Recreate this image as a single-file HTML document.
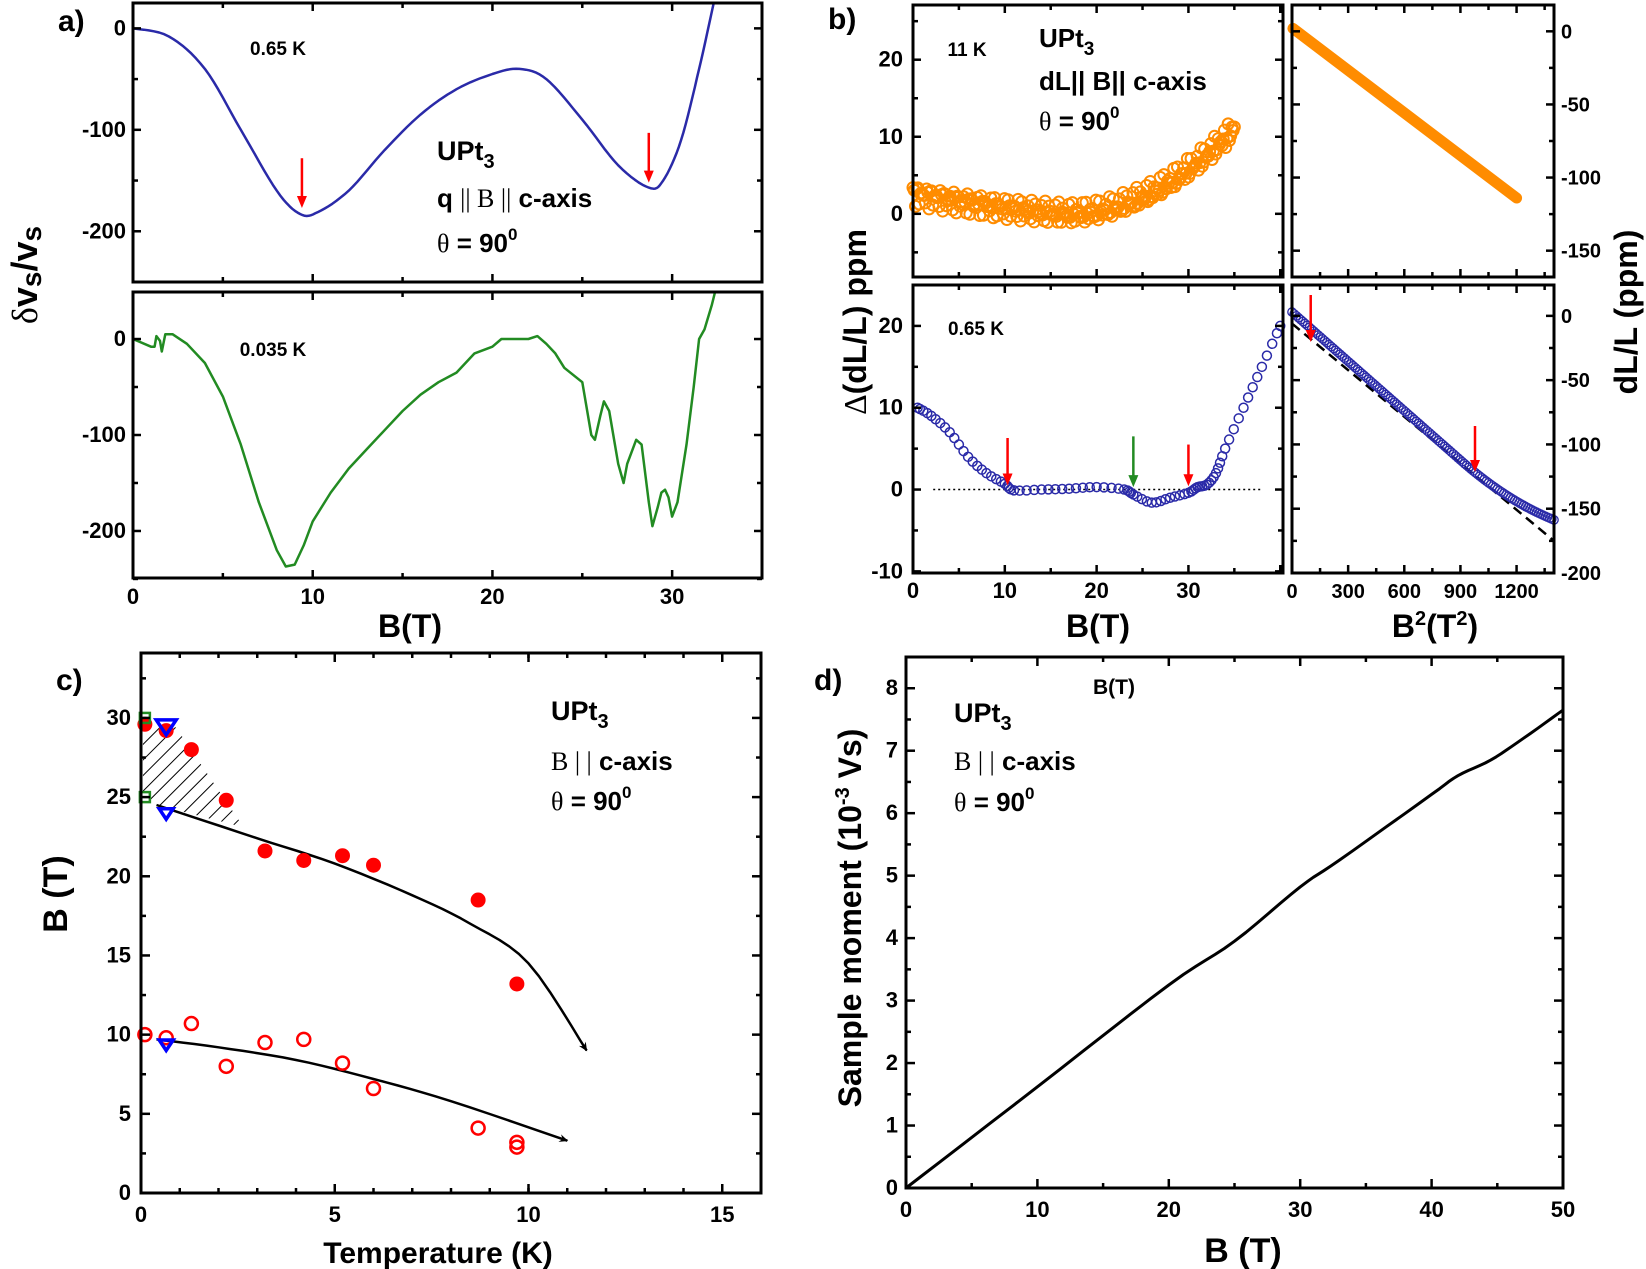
<!DOCTYPE html>
<html><head><meta charset="utf-8"><style>
html,body{margin:0;padding:0;background:#fff}
svg{display:block}
text{font-family:"Liberation Sans Narrow","Liberation Sans",sans-serif;font-weight:bold;fill:#000}
.s{font-family:"Liberation Serif",serif;font-weight:normal}
</style></head><body>
<svg id="g" width="1646" height="1269" viewBox="0 0 1646 1269" xmlns="http://www.w3.org/2000/svg">
<defs>
<pattern id="h" width="11" height="11" patternUnits="userSpaceOnUse" patternTransform="rotate(45)"><line x1="0" y1="0" x2="0" y2="11" stroke="#000" stroke-width="2"/></pattern>
<marker id="ah" markerWidth="10" markerHeight="10" refX="8" refY="5" orient="auto" markerUnits="userSpaceOnUse"><path d="M0,1 L9,5 L0,9 L3,5z" fill="#000"/></marker>
</defs>
<text x="58" y="31" font-size="30">a)</text>
<text x="278" y="55" font-size="19" text-anchor="middle">0.65 K</text>
<text x="437" y="160" font-size="27">UPt<tspan font-size="20" dy="8">3</tspan></text>
<text x="437" y="207" font-size="26">q <tspan class="s">|| B ||</tspan> c-axis</text>
<text x="437" y="252" font-size="26"><tspan class="s">θ</tspan> = 90<tspan font-size="17" dy="-12">0</tspan></text>
<text x="273" y="356" font-size="19" text-anchor="middle">0.035 K</text>
<text x="410" y="637" font-size="32" text-anchor="middle">B(T)</text>
<text transform="translate(37,275) rotate(-90)" font-size="36" text-anchor="middle"><tspan class="s">δ</tspan>v<tspan font-size="28" dy="4">s</tspan><tspan dy="-4">/v</tspan><tspan font-size="28" dy="4">s</tspan></text>

<text x="828" y="29" font-size="30">b)</text>
<text x="967" y="56" font-size="19" text-anchor="middle">11 K</text>
<text x="1039" y="47" font-size="26">UPt<tspan font-size="19" dy="8">3</tspan></text>
<text x="1039" y="90" font-size="26">dL|| B|| c-axis</text>
<text x="1039" y="130" font-size="26"><tspan class="s">θ</tspan> = 90<tspan font-size="17" dy="-12">0</tspan></text>
<text x="948" y="335" font-size="19">0.65 K</text>
<text x="1098" y="637" font-size="32" text-anchor="middle">B(T)</text>
<text x="1435" y="637" font-size="32" text-anchor="middle">B<tspan font-size="20" dy="-12">2</tspan><tspan dy="12">(T</tspan><tspan font-size="20" dy="-12">2</tspan><tspan dy="12">)</tspan></text>
<text transform="translate(866,322) rotate(-90)" font-size="32" text-anchor="middle"><tspan class="s">Δ</tspan>(dL/L) ppm</text>
<text transform="translate(1637,312) rotate(-90)" font-size="32" text-anchor="middle">dL/L (ppm)</text>

<text x="56" y="690" font-size="30">c)</text>
<text x="551" y="720" font-size="27">UPt<tspan font-size="20" dy="8">3</tspan></text>
<text x="551" y="770" font-size="26"><tspan class="s">B | |</tspan> c-axis</text>
<text x="551" y="810" font-size="26"><tspan class="s">θ</tspan> = 90<tspan font-size="17" dy="-12">0</tspan></text>
<text x="438" y="1263" font-size="30" text-anchor="middle">Temperature (K)</text>
<text transform="translate(67,894) rotate(-90)" font-size="34" text-anchor="middle">B (T)</text>

<text x="814" y="690" font-size="30">d)</text>
<text x="1114" y="694" font-size="21" text-anchor="middle">B(T)</text>
<text x="954" y="722" font-size="27">UPt<tspan font-size="20" dy="8">3</tspan></text>
<text x="954" y="770" font-size="26"><tspan class="s">B | |</tspan> c-axis</text>
<text x="954" y="811" font-size="26"><tspan class="s">θ</tspan> = 90<tspan font-size="17" dy="-12">0</tspan></text>
<text x="1243" y="1262" font-size="34" text-anchor="middle">B (T)</text>
<text transform="translate(861,918) rotate(-90)" font-size="32" text-anchor="middle">Sample moment (10<tspan font-size="20" dy="-12">-3</tspan><tspan dy="12"> Vs)</tspan></text>
</svg>
<script>
var S=document.getElementById('g'),NS='http://www.w3.org/2000/svg';
function el(t,a,p){var e=document.createElementNS(NS,t);for(var k in a)e.setAttribute(k,a[k]);(p||S).appendChild(e);return e;}
function txt(x,y,s,sz,anc){var e=el('text',{x:x,y:y,'font-size':sz,'text-anchor':anc});e.textContent=s;return e;}
function P(L,R,T,B,x0,x1,y0,y1){return{L:L,R:R,T:T,B:B,X:function(v){return L+(v-x0)/(x1-x0)*(R-L)},Y:function(v){return T+(y1-v)/(y1-y0)*(B-T)}};}
function frame(p){el('rect',{x:p.L,y:p.T,width:p.R-p.L,height:p.B-p.T,fill:'none',stroke:'#000','stroke-width':3});}
function xt(p,vals,len,lab,ly,sz,both){vals.forEach(function(v){var x=p.X(v);el('line',{x1:x,y1:p.B,x2:x,y2:p.B-len,stroke:'#000','stroke-width':2.5});if(both!==false)el('line',{x1:x,y1:p.T,x2:x,y2:p.T+len,stroke:'#000','stroke-width':2.5});if(lab)txt(x,ly,lab(v),sz,'middle');});}
function yt(p,vals,len,lab,lx,sz,anc){vals.forEach(function(v){var y=p.Y(v);el('line',{x1:p.L,y1:y,x2:p.L+len,y2:y,stroke:'#000','stroke-width':2.5});el('line',{x1:p.R,y1:y,x2:p.R-len,y2:y,stroke:'#000','stroke-width':2.5});if(lab)txt(lx,y+7,lab(v),sz,anc||'end');});}
function rng(a,b,s){var r=[];for(var v=a;v<=b+1e-9;v+=s)r.push(Math.round(v*1000)/1000);return r;}
function path(p,pts,st,w,extra){var d=pts.map(function(q,i){return(i?'L':'M')+p.X(q[0]).toFixed(1)+','+p.Y(q[1]).toFixed(1)}).join('');var a={d:d,fill:'none',stroke:st,'stroke-width':w,'stroke-linejoin':'round'};for(var k in extra)a[k]=extra[k];return el('path',a);}
function smooth(pts,n){var o=[];for(var i=0;i<pts.length-1;i++){var p0=pts[Math.max(0,i-1)],p1=pts[i],p2=pts[i+1],p3=pts[Math.min(pts.length-1,i+2)];for(var k=0;k<n;k++){var t=k/n,t2=t*t,t3=t2*t;o.push([0.5*(2*p1[0]+(-p0[0]+p2[0])*t+(2*p0[0]-5*p1[0]+4*p2[0]-p3[0])*t2+(-p0[0]+3*p1[0]-3*p2[0]+p3[0])*t3),0.5*(2*p1[1]+(-p0[1]+p2[1])*t+(2*p0[1]-5*p1[1]+4*p2[1]-p3[1])*t2+(-p0[1]+3*p1[1]-3*p2[1]+p3[1])*t3)]);}}o.push(pts[pts.length-1]);return o;}
function arrow(x,y1,y2,c){el('line',{x1:x,y1:y1,x2:x,y2:y2-10,stroke:c,'stroke-width':2.5});el('path',{d:'M'+(x-5)+','+(y2-12)+'L'+(x+5)+','+(y2-12)+'L'+x+','+y2+'z',fill:c});}
var f=function(v){return String(v)};
// Panel a top
var a1=P(133,762,3,282,0,35,-250,25);
path(a1,smooth([[0,0],[2,-8],[4,-40],[6,-100],[8,-160],[9.3,-183],[10.3,-181],[12,-160],[14,-120],[16,-85],[18,-60],[20,-45],[21.5,-40],[23,-50],[25,-90],[27,-135],[28.7,-157],[29.5,-150],[30.5,-110],[31.5,-40],[32.3,24]],8),'#2a2aa8',2.5);
arrow(a1.X(9.4),a1.Y(-128),a1.Y(-177),'#f00');arrow(a1.X(28.7),a1.Y(-103),a1.Y(-152),'#f00');
frame(a1);xt(a1,rng(0,35,10),8,null);xt(a1,rng(5,35,10),5,null);
yt(a1,[0,-100,-200],8,f,126,22);yt(a1,[-50,-150,-250],5,null);
// Panel a bottom
var a2=P(133,762,292,578,0,35,-249,49);
path(a2,[[0,0],[1,-8],[1.2,-8],[1.3,3],[1.5,-2],[1.6,-13],[1.8,5],[2.2,5],[3,-5],[4,-25],[5,-60],[6,-110],[7,-170],[8,-220],[8.5,-237],[9,-235],[9.5,-215],[10,-190],[11,-160],[12,-135],[13,-115],[14,-95],[15,-75],[16,-58],[17,-45],[18,-35],[19,-15],[20,-8],[20.5,0],[22,0],[22.5,3],[23,-5],[23.5,-15],[24,-30],[25,-45],[25.5,-100],[25.7,-105],[26,-80],[26.2,-65],[26.5,-75],[27,-130],[27.3,-150],[27.5,-130],[28,-105],[28.3,-110],[28.7,-170],[28.9,-195],[29.2,-175],[29.4,-160],[29.6,-157],[29.8,-165],[30,-185],[30.3,-170],[30.8,-110],[31.2,-50],[31.5,0],[31.8,10],[32.2,35],[32.4,50]],'#228b22',2.5);
frame(a2);xt(a2,rng(0,35,10),8,f,604,22);xt(a2,rng(5,35,10),5,null);
yt(a2,[0,-100,-200],8,f,126,22);yt(a2,[-50,-150,-250],5,null);
// Panel b top-left
var b1=P(913,1283,5,277,0,40.3,-8.2,27.1);
for(var i=0;i<=260;i++){var B=i*35/260;var v=B<17?2.6*Math.pow(1-B/17,1.4):0;if(B>17)v+=0.034*(B-17)*(B-17);v+=(Math.sin(i*2.3)+Math.cos(i*1.7))*0.8;el('circle',{cx:b1.X(B),cy:b1.Y(v),r:5.5,fill:'none',stroke:'#ff8c00','stroke-width':2});}
frame(b1);xt(b1,rng(0,40,10),8,null);xt(b1,rng(5,35,10),5,null);
yt(b1,[0,10,20],8,f,903,22);yt(b1,[-5,5,15,25],5,null);
// Panel b bottom-left
var b2=P(913,1283,285,573,0,40.3,-10.2,25);
el('line',{x1:b2.X(2.2),y1:b2.Y(0),x2:b2.X(38),y2:b2.Y(0),stroke:'#000','stroke-width':1.5,'stroke-dasharray':'2,3'});
var bc=smooth([[0.5,10],[2,9],[4,7],[6,4],[8,2],[10,0.7],[11,-0.1],[14,0],[17,0.1],[20,0.3],[23,0],[24,-0.6],[26,-1.6],[28,-1],[30,-0.4],[31,0.3],[32,0.6],[33,2],[34,5],[36,10],[38,15],[40,20]],4);
bc.forEach(function(q){el('circle',{cx:b2.X(q[0]),cy:b2.Y(q[1]),r:4.5,fill:'none',stroke:'#2a2aa8','stroke-width':1.5});});
arrow(b2.X(10.3),b2.Y(6.3),b2.Y(0.5),'#f00');arrow(b2.X(24),b2.Y(6.5),b2.Y(0.3),'#228b22');arrow(b2.X(30),b2.Y(5.5),b2.Y(0.4),'#f00');
frame(b2);xt(b2,rng(0,30,10),8,f,598,22);xt(b2,[40],8,null);xt(b2,rng(5,35,10),5,null);
yt(b2,[-10,0,10,20],8,f,903,22);yt(b2,[-5,5,15,25],5,null);
// Panel b top-right
var b3=P(1292,1554,5,277,0,1400,-168,18);
el('line',{x1:b3.X(5),y1:b3.Y(2),x2:b3.X(1200),y2:b3.Y(-114),stroke:'#ff8c00','stroke-width':11,'stroke-linecap':'round'});
frame(b3);xt(b3,rng(0,1200,300),8,null);xt(b3,rng(150,1350,300),5,null);
yt(b3,[0,-50,-100,-150],8,f,1561,20,'start');yt(b3,[-25,-75,-125],5,null);
// Panel b bottom-right
var b4=P(1292,1554,285,573,0,1400,-200,24);
el('line',{x1:b4.X(0),y1:b4.Y(-6),x2:b4.X(1400),y2:b4.Y(-175),stroke:'#000','stroke-width':2.5,'stroke-dasharray':'10,6'});
for(var i=0;i<=120;i++){var x=i*1400/120;var y=3-0.128*x+(x>900?0.00007*(x-900)*(x-900):0)-(x<150?0.0*x:0);el('circle',{cx:b4.X(x),cy:b4.Y(y),r:4.2,fill:'none',stroke:'#2a2aa8','stroke-width':1.3});}
arrow(b4.X(100),295,342,'#f00');arrow(1475,426,472,'#f00');
frame(b4);xt(b4,rng(0,1200,300),8,f,598,20);xt(b4,rng(150,1350,300),5,null);
yt(b4,[0,-50,-100,-150,-200],8,f,1561,20,'start');yt(b4,[-25,-75,-125,-175],5,null);
// Panel c
var c=P(141,761,653,1193,0,16,0,34.1);
el('path',{d:'M'+c.X(0.05)+','+c.Y(29.7)+'L'+c.X(0.9)+','+c.Y(29.4)+'L'+c.X(2.65)+','+c.Y(23.1)+'L'+c.X(0.4)+','+c.Y(24.5)+'L'+c.X(0.05)+','+c.Y(25.3)+'z',fill:'url(#h)'});
path(c,smooth([[0.4,24.5],[3,22.4],[5,20.8],[7,18.8],[8.5,17],[10,14.5],[11.5,9]],6),'#000',2.5,{'marker-end':'url(#ah)'});
path(c,smooth([[0.4,9.7],[2,9.2],[4,8.4],[6,7.2],[8,5.8],[11,3.3]],6),'#000',2.5,{'marker-end':'url(#ah)'});
[[0.1,29.6],[0.65,29.2],[1.3,28],[2.2,24.8],[3.2,21.6],[4.2,21],[5.2,21.3],[6,20.7],[8.7,18.5],[9.7,13.2]].forEach(function(q){el('circle',{cx:c.X(q[0]),cy:c.Y(q[1]),r:7.5,fill:'#f00'});});
[[0.1,10],[0.65,9.8],[1.3,10.7],[2.2,8],[3.2,9.5],[4.2,9.7],[5.2,8.2],[6,6.6],[8.7,4.1],[9.7,3.2],[9.7,2.9]].forEach(function(q){el('circle',{cx:c.X(q[0]),cy:c.Y(q[1]),r:6.5,fill:'none',stroke:'#f00','stroke-width':2.5});});
function tri(x,y,s){el('path',{d:'M'+(x-s)+','+(y-s*0.6)+'L'+(x+s)+','+(y-s*0.6)+'L'+x+','+(y+s*0.9)+'z',fill:'none',stroke:'#00f','stroke-width':3.5});}
tri(c.X(0.65),c.Y(29.5),10);tri(c.X(0.65),c.Y(24),7);tri(c.X(0.65),c.Y(9.4),7);
[[0.1,30],[0.1,25]].forEach(function(q){el('rect',{x:c.X(q[0])-5,y:c.Y(q[1])-5,width:10,height:10,fill:'none',stroke:'#228b22','stroke-width':2.5});});
frame(c);xt(c,rng(0,15,5),9,f,1222,22);xt(c,rng(1,16,1),5,null);
yt(c,rng(0,30,5),9,f,131,22);yt(c,rng(2.5,32.5,5),5,null);
// Panel d
var d=P(906,1563,657,1188,0,50,0,8.5);
path(d,smooth([[0,0],[10,1.62],[20,3.25],[25,3.95],[30,4.82],[33,5.25],[40,6.3],[42,6.6],[44.5,6.85],[47,7.2],[50,7.65]],6),'#000',3);
frame(d);xt(d,rng(0,50,10),9,f,1217,22);xt(d,rng(5,45,10),5,null);
yt(d,rng(0,8,1),9,f,898,22);yt(d,rng(0.5,8.5,1),5,null);
</script>
</body></html>
